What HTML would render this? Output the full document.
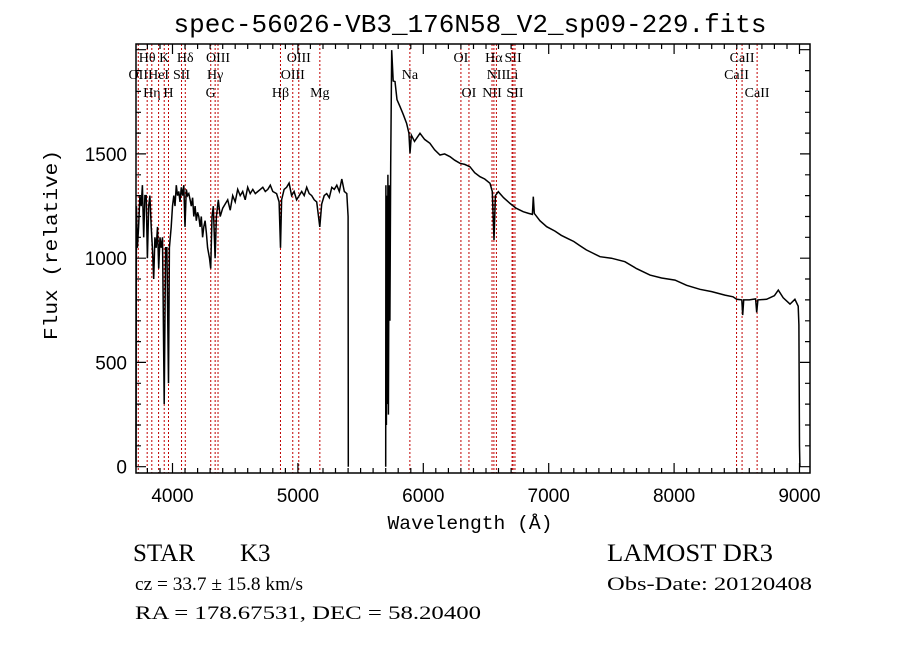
<!DOCTYPE html>
<html><head><meta charset="utf-8"><title>spec-56026-VB3_176N58_V2_sp09-229.fits</title>
<style>
html,body{margin:0;padding:0;background:#fff;}
svg{display:block;}
.tk{font-family:"Liberation Sans",sans-serif;font-size:19px;fill:#000;}
.ll{font-family:"Liberation Serif",serif;font-size:14px;fill:#000;}
.bt{font-family:"Liberation Serif",serif;fill:#000;}
</style></head>
<body>
<svg id="chart" width="900" height="649" viewBox="0 0 900 649" xmlns="http://www.w3.org/2000/svg">
<rect x="0" y="0" width="900" height="649" fill="#fff"/>
<text x="470" y="32" text-anchor="middle" font-family="Liberation Mono, monospace" font-size="26" textLength="593" lengthAdjust="spacingAndGlyphs">spec-56026-VB3_176N58_V2_sp09-229.fits</text>
<g id="lines"></g>
<g id="spec"></g>
<g id="axes"></g>
<text x="470" y="529" text-anchor="middle" font-family="Liberation Mono, monospace" font-size="19" textLength="165" lengthAdjust="spacingAndGlyphs">Wavelength (Å)</text>
<text transform="translate(57,245) rotate(-90)" text-anchor="middle" font-family="Liberation Mono, monospace" font-size="19" textLength="190" lengthAdjust="spacingAndGlyphs">Flux (relative)</text>
<text class="bt" x="133" y="561" font-size="25">STAR</text>
<text class="bt" x="240" y="561" font-size="25">K3</text>
<text class="bt" x="607" y="561" font-size="25" textLength="166" lengthAdjust="spacingAndGlyphs">LAMOST DR3</text>
<text class="bt" x="135" y="590" font-size="19" textLength="168" lengthAdjust="spacingAndGlyphs">cz = 33.7 ± 15.8 km/s</text>
<text class="bt" x="607" y="590" font-size="19" textLength="205" lengthAdjust="spacingAndGlyphs">Obs-Date: 20120408</text>
<text class="bt" x="135" y="619" font-size="19" textLength="346" lengthAdjust="spacingAndGlyphs">RA = 178.67531, DEC =  58.20400</text>
</svg>
<script>
const wavelengths = [3709,3712,3720,3730,3740,3750,3760,3770,3780,3790,3800,3810,3820,3830,3840,3850,3860,3870,3880,3890,3900,3910,3920,3934,3945,3955,3968,3975,3990,4000,4010,4020,4030,4040,4050,4060,4070,4080,4090,4100,4110,4120,4130,4140,4150,4160,4170,4180,4190,4200,4210,4220,4230,4240,4250,4260,4270,4280,4295,4305,4315,4325,4340,4350,4365,4380,4400,4420,4440,4460,4480,4500,4520,4540,4560,4580,4600,4620,4640,4660,4680,4700,4720,4740,4760,4780,4800,4830,4850,4861,4870,4890,4910,4930,4950,4970,4990,5010,5030,5050,5070,5090,5110,5130,5150,5175,5190,5210,5230,5250,5270,5290,5310,5330,5350,5370,5390,5400,5402,5500,5700,5702,5706,5710,5714,5718,5722,5728,5734,5740,5748,5760,5774,5790,5814,5840,5867,5885,5894,5905,5930,5974,6010,6053,6090,6133,6170,6213,6250,6293,6330,6372,6410,6452,6490,6532,6550,6564,6575,6598,6640,6691,6740,6797,6840,6870,6877,6885,6930,6984,7050,7100,7150,7200,7250,7300,7350,7409,7500,7608,7700,7808,7900,8007,8100,8206,8300,8405,8470,8499,8540,8547,8555,8600,8650,8659,8668,8738,8800,8831,8870,8924,8963,8990,8995,9000,9003];
const fluxes = [0,1250,1050,1150,1300,1250,1350,1100,1300,1300,1000,1250,1300,1150,1050,900,1100,1050,1150,950,1100,1050,1100,300,1050,1050,400,1050,1150,1250,1300,1250,1350,1300,1320,1270,1340,1300,1350,1150,1330,1300,1310,1280,1250,1290,1200,1250,1180,1220,1200,1150,1200,1100,1150,1180,1120,1050,1000,950,1200,1250,1000,1200,1280,1200,1240,1260,1280,1230,1300,1270,1330,1300,1320,1280,1340,1310,1330,1310,1320,1330,1340,1320,1330,1350,1320,1310,1270,1050,1280,1330,1340,1360,1300,1320,1280,1300,1320,1300,1340,1310,1300,1280,1270,1150,1260,1300,1310,1290,1340,1330,1350,1320,1380,1320,1310,1200,0,null,0,1350,200,1300,300,1400,250,1350,700,1450,1998,1850,1847,1760,1727,1690,1647,1600,1503,1590,1560,1599,1570,1551,1520,1495,1500,1487,1470,1455,1450,1439,1410,1391,1380,1359,1320,1087,1300,1319,1290,1263,1240,1223,1215,1210,1295,1215,1180,1151,1130,1110,1095,1080,1060,1040,1025,1007,1000,983,950,919,905,895,870,851,840,823,815,803,800,727,800,800,805,740,800,803,820,847,810,780,803,770,680,100,0];
const lineWaves = [3727,3798,3835,3889,3934,3968,4072,4102,4305,4340,4363,4861,4959,5007,5175,5893,6300,6364,6548,6563,6583,6708,6716,6731,8498,8542,8662];
const lineNames = ["OII","Hθ","Hη","HeI","K","H","SII","Hδ","G","Hγ","OIII","Hβ","OIII","OIII","Mg","Na","OI","OI","NII","Hα","NII","Li","SII","SII","CaII","CaII","CaII"];
const lineRows = [1,0,2,1,0,2,1,0,2,1,0,2,1,0,2,1,0,2,2,0,1,1,0,2,1,0,2];
const xTicks = [4000,5000,6000,7000,8000,9000];
const yTicks = [0,500,1000,1500];

const X0=136,X1=810,Y0=44,Y1=473;
function xs(w){return 172.5+(w-4000)*0.1254;}
function ys(f){return 466.7-f*0.2085;}
const NS="http://www.w3.org/2000/svg";
function mk(tag,attrs,parent){const e=document.createElementNS(NS,tag);for(const k in attrs)e.setAttribute(k,attrs[k]);parent.appendChild(e);return e;}

const gl=document.getElementById('lines');
const rowY=[62,79,97];
lineWaves.forEach((w,i)=>{
  const x=xs(w);
  const l=mk('line',{x1:x,x2:x,y1:Y0,y2:Y1,stroke:'#c00000','stroke-width':1,'stroke-dasharray':'2,2'},gl);
  
  
  const t=mk('text',{x:x,y:rowY[lineRows[i]],'text-anchor':'middle','class':'ll'},gl);
  t.textContent=lineNames[i];
  
  
});

const gs=document.getElementById('spec');
let d='',pen=false;
wavelengths.forEach((w,i)=>{
  if(fluxes[i]===null){pen=false;return;}
  const x=xs(w).toFixed(1),y=Math.min(Y1,ys(fluxes[i])).toFixed(1);
  d+=(pen?'L':'M')+x+','+y;pen=true;
});
const p=mk('path',{d:d,fill:'none',stroke:'#000','stroke-width':1.5,'stroke-linejoin':'miter'},gs);



const ga=document.getElementById('axes');
const fr=mk('rect',{x:X0,y:Y0,width:X1-X0,height:Y1-Y0,fill:'none',stroke:'#000','stroke-width':1.5},ga);


let td='';
for(let w=3800;w<=9000;w+=100){
  const x=xs(w);if(x<X0||x>X1)continue;
  const L=(w%1000===0)?10:5;
  td+='M'+x.toFixed(1)+','+Y1+'v'+(-L)+'M'+x.toFixed(1)+','+Y0+'v'+L;
}
for(let f=0;f<=2000;f+=100){
  const y=ys(f);if(y<Y0)continue;
  const L=(f%500===0)?10:5;
  td+='M'+X0+','+y.toFixed(1)+'h'+L+'M'+X1+','+y.toFixed(1)+'h'+(-L);
}
const tp=mk('path',{d:td,stroke:'#000','stroke-width':1.2,fill:'none'},ga);


xTicks.forEach(w=>{
  const t=mk('text',{x:xs(w),y:502,'text-anchor':'middle','class':'tk'},ga);
  t.textContent=String(w);
  
  
});
yTicks.forEach(f=>{
  const t=mk('text',{x:127,y:ys(f)+7,'text-anchor':'end','class':'tk'},ga);
  t.textContent=String(f);
  
  
});
</script>
</body></html>
